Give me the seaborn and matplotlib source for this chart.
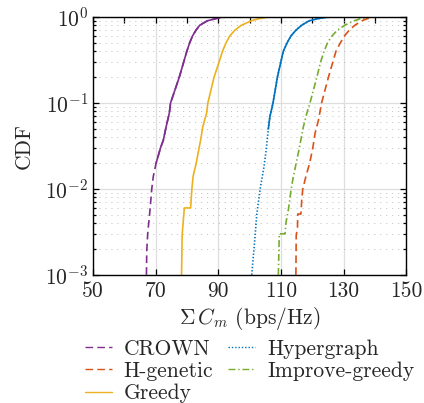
import numpy as np
import pandas as pd
import matplotlib
matplotlib.use("Agg")
import matplotlib.pyplot as plt
import seaborn as sns
from matplotlib.ticker import FixedLocator, LogLocator, NullFormatter
from matplotlib.lines import Line2D

# ---------------- data ----------------
crown_x = [67.1, 67.2, 67.5, 68.2, 68.8, 69.3, 70.2, 71.6, 72.5, 73.4, 74.4, 74.8, 77.6,
           79.0, 80.0, 80.9, 81.8, 82.9, 84.1, 86.5, 89.0, 91.0, 94.0, 97.0]
crown_cdf = [0.001, 0.0019, 0.003, 0.0055, 0.01, 0.014, 0.02, 0.03, 0.037, 0.053, 0.076, 0.1, 0.2,
             0.3, 0.4, 0.5, 0.6, 0.7, 0.8, 0.9, 0.95, 0.99, 0.999, 1.0]

hgen_x = [114.8, 114.9, 115.3, 115.4, 116.4, 116.7, 117.0, 118.0, 119.2, 120.2, 120.9, 122.0,
          123.0, 125.2, 126.6, 127.6, 129.0, 130.3, 131.8, 133.6, 135.8, 137.4, 139.5, 141.5, 143.8]
hgen_cdf = [0.001, 0.0029, 0.0035, 0.0051, 0.0051, 0.0078, 0.01, 0.014, 0.02, 0.03, 0.044, 0.063,
            0.1, 0.2, 0.3, 0.4, 0.5, 0.6, 0.7, 0.8, 0.9, 0.95, 0.99, 0.999, 1.0]

greedy_x = [78.3, 78.5, 78.8, 79.2, 81.2, 81.6, 82.0, 83.0, 83.9, 84.4, 85.1, 86.3, 86.7, 88.7,
            90.3, 91.4, 92.5, 93.7, 95.3, 97.4, 100.5, 102.8, 105.5, 106.5, 107.5]
greedy_cdf = [0.001, 0.0029, 0.004, 0.006, 0.006, 0.01, 0.014, 0.02, 0.03, 0.037, 0.053, 0.076, 0.1, 0.2,
              0.3, 0.4, 0.5, 0.6, 0.7, 0.8, 0.9, 0.95, 0.99, 0.999, 1.0]

hyper_x = [100.7, 101.8, 102.3, 103.4, 104.6, 105.3, 106.0, 106.5, 107.5, 108.9, 110.0, 110.8,
           112.0, 113.2, 114.8, 116.6, 119.0, 121.5, 124.5, 128.0, 131.5]
hyper_cdf = [0.001, 0.0029, 0.005, 0.01, 0.018, 0.028, 0.05, 0.069, 0.1, 0.2, 0.3, 0.4,
             0.5, 0.6, 0.7, 0.8, 0.9, 0.95, 0.99, 0.999, 1.0]

impg_x = [109.2, 109.5, 111.3, 111.7, 112.4, 112.9, 113.3, 114.0, 114.9, 115.9, 117.2, 118.3,
          119.3, 121.5, 122.7, 123.8, 124.9, 126.3, 128.0, 130.4, 133.3, 135.3, 138.0, 142.0, 145.8]
impg_cdf = [0.001, 0.003, 0.003, 0.0042, 0.0057, 0.0078, 0.01, 0.014, 0.02, 0.03, 0.053, 0.076,
            0.1, 0.2, 0.3, 0.4, 0.5, 0.6, 0.7, 0.8, 0.9, 0.95, 0.99, 0.999, 1.0]

labels = ["CROWN", "H-genetic", "Greedy", "Hypergraph", "Improve-greedy"]
xticks = [50, 70, 90, 110, 130, 150]

# ---------------- style ----------------
sns.set_style("ticks")
FS = 15.5
plt.rcParams.update({
    "font.family": "serif",
    "font.serif": ["cmr10", "DejaVu Serif"],
    "mathtext.fontset": "cm",
    "axes.formatter.use_mathtext": True,
    "font.size": FS,
    "lines.scale_dashes": False,
    "axes.unicode_minus": False,
})

colors = {"CROWN": "#7E2F8E", "H-genetic": "#D95319", "Greedy": "#EDB120",
          "Hypergraph": "#0072BD", "Improve-greedy": "#77AC30"}
styles = {"CROWN": (0, (5.5, 3)), "H-genetic": (0, (5.5, 3)), "Greedy": "-",
          "Hypergraph": (0, (1, 1.4)), "Improve-greedy": (0, (5, 2, 1, 2))}
solid_above = {"CROWN": 0.02, "Hypergraph": 0.03}

data = {"CROWN": (crown_x, crown_cdf), "H-genetic": (hgen_x, hgen_cdf),
        "Greedy": (greedy_x, greedy_cdf), "Hypergraph": (hyper_x, hyper_cdf),
        "Improve-greedy": (impg_x, impg_cdf)}

fig = plt.figure(figsize=(4.24, 4.03), dpi=100)
ax = fig.add_axes([0.219, 0.318, 0.739, 0.640])

lw = 1.2
for name in labels:
    xs, ys = data[name]
    df = pd.DataFrame({"x": xs, "cdf": ys})
    sns.lineplot(data=df, x="x", y="cdf", ax=ax, color=colors[name], sort=False,
                 estimator=None, linestyle=styles[name], lw=lw, legend=False)
    if name in solid_above:
        sub = df[df["cdf"] >= solid_above[name]]
        sns.lineplot(data=sub, x="x", y="cdf", ax=ax, color=colors[name], sort=False,
                     estimator=None, linestyle="-", lw=lw, legend=False)

ax.set_yscale("log")
ax.set_xlim(50, 150)
ax.set_ylim(1e-3, 1)
ax.set_xticks(xticks)
ax.set_xticklabels([str(t) for t in xticks])
ax.xaxis.set_minor_locator(FixedLocator([60, 80, 100, 120, 140]))
ax.yaxis.set_major_locator(LogLocator(base=10, numticks=10))
ax.yaxis.set_minor_locator(LogLocator(base=10, subs=np.arange(2, 10), numticks=20))
ax.yaxis.set_minor_formatter(NullFormatter())

ax.grid(which="major", color="#dedede", lw=0.9, ls="-")
ax.grid(which="minor", axis="y", color="#c4c4c4", lw=0.7, ls=(0, (0.8, 3.5)))
ax.set_axisbelow(True)

ax.tick_params(which="both", direction="in", top=True, right=True, width=0.9, color="black",
               labelsize=FS)
ax.tick_params(which="major", length=4.5)
ax.tick_params(axis="x", which="major", pad=5)
ax.tick_params(axis="y", which="minor", length=2.5)
ax.tick_params(axis="x", which="minor", bottom=False, top=True, length=4.5)
for s in ax.spines.values():
    s.set_linewidth(1.0)
    s.set_color("black")

ax.set_xlabel(r"$\Sigma\, C_m$ (bps/Hz)", fontsize=FS, labelpad=3)
ax.set_ylabel("CDF", fontsize=FS, labelpad=8)

handles = [Line2D([], [], color=colors[n], linestyle=styles[n], lw=1.0) for n in labels]
ax.legend(handles, labels, loc="upper center", bbox_to_anchor=(0.5, -0.25), ncol=2,
          frameon=False, handlelength=1.25, handletextpad=0.55, columnspacing=0.7,
          labelspacing=0.12, borderaxespad=0, borderpad=0, fontsize=FS)

fig.savefig("out.png", dpi=100)
